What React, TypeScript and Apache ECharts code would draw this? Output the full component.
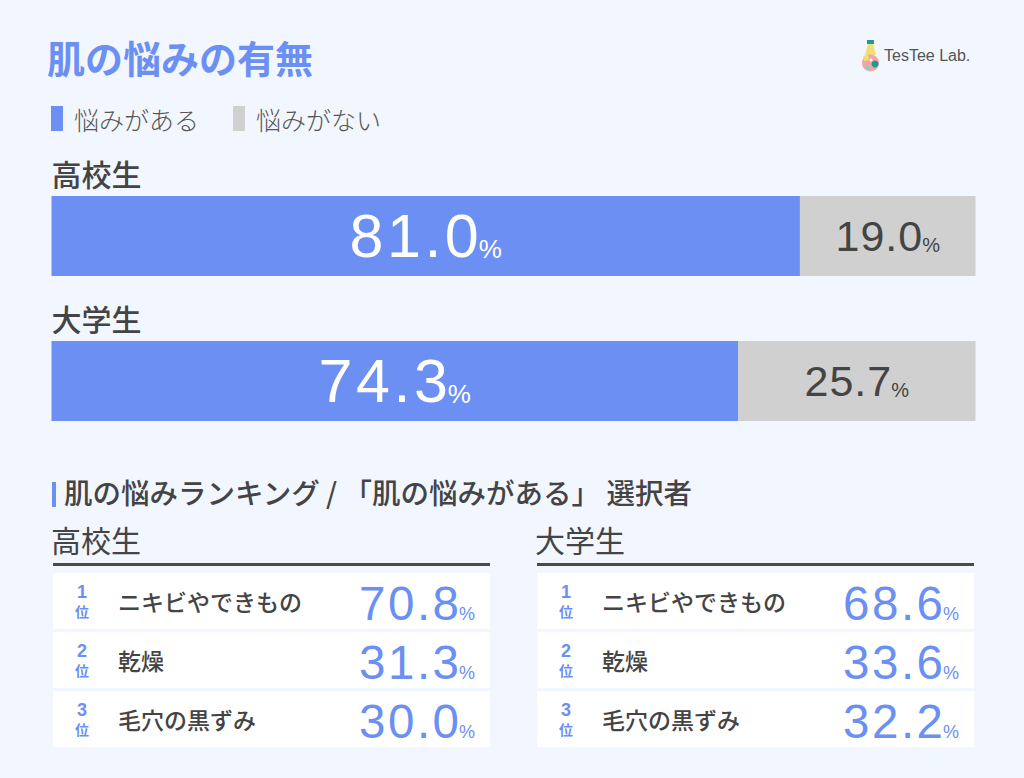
import React, { useEffect, useRef } from "react";
import * as echarts from "echarts";

const groups = ["高校生", "大学生"];
const seriesNames = ["悩みがある", "悩みがない"];
const hasConcern = [81.0, 74.3];
const noConcern = [19.0, 25.7];

const rankItemsHigh = ["ニキビやできもの", "乾燥", "毛穴の黒ずみ"];
const rankValuesHigh = [70.8, 31.3, 30.0];
const rankItemsUniv = ["ニキビやできもの", "乾燥", "毛穴の黒ずみ"];
const rankValuesUniv = [68.6, 33.6, 32.2];
const rankLabels = ["1", "2", "3"];

const BLUE = "#6b8ff2";
const GRAY = "#d0d0d0";
const DARK = "#444444";
const BG = "#f2f6ff";
const JP = '"Noto Sans CJK JP", "Noto Sans", sans-serif';
const NUM = '"Liberation Sans", Arial, Helvetica, sans-serif';

// number text with letter spacing emulated by per-character rich tokens
function spaced(v: number) {
  const s = v.toFixed(1);
  const chars = s.split("");
  return chars.map((c, i) => `{${i === chars.length - 1 ? "l" : "d"}|${c}}`).join("") + "{p|%}";
}

function numRich(color: string, big: number, small: number, gap: number) {
  return {
    d: { fontFamily: NUM, fontSize: big, color, fill: color, verticalAlign: "bottom", lineHeight: big, padding: [0, gap, 0, 0] },
    l: { fontFamily: NUM, fontSize: big, color, fill: color, verticalAlign: "bottom", lineHeight: big },
    p: {
      fontFamily: NUM,
      fontSize: small,
      color,
      fill: color,
      verticalAlign: "bottom",
      lineHeight: small,
      padding: [0, 0, Math.round(0.15 * (big - small)), 0],
    },
  };
}

function rankingTable(x0: number, w: number, title: string, items: string[], values: number[]) {
  const els: any[] = [];
  els.push({
    type: "text",
    left: x0 - 2,
    top: 524,
    style: { text: title, font: `400 30px ${JP}`, fill: DARK },
  });
  els.push({
    type: "rect",
    shape: { x: x0, y: 563, width: w, height: 3 },
    style: { fill: "#4a4a4a" },
  });
  const rowTops = [573, 632, 691];
  items.forEach((item, i) => {
    const top = rowTops[i];
    els.push({
      type: "rect",
      shape: { x: x0, y: top, width: w, height: 56 },
      style: { fill: "#ffffff" },
    });
    els.push({
      type: "text",
      x: x0 + 29,
      y: top + 19,
      style: { text: rankLabels[i], font: `700 18px ${NUM}`, fill: BLUE, align: "center", verticalAlign: "middle" },
    });
    els.push({
      type: "text",
      x: x0 + 29,
      y: top + 38,
      style: { text: "位", font: `700 14px ${JP}`, fill: BLUE, align: "center", verticalAlign: "middle" },
    });
    els.push({
      type: "text",
      x: x0 + 65,
      y: top + 28,
      style: { text: item, font: `500 23px ${JP}`, fill: DARK, align: "left", verticalAlign: "middle" },
    });
    els.push({
      type: "text",
      x: x0 + w - 15,
      y: top + 54,
      style: {
        text: spaced(values[i]),
        align: "right",
        verticalAlign: "bottom",
        rich: numRich(BLUE, 47.5, 18, 2.5),
      },
    });
  });
  return els;
}

export default function App() {
  const ref = useRef<HTMLDivElement>(null);
  useEffect(() => {
    if (!ref.current) return;
    const chart = echarts.init(ref.current, null, { renderer: "svg" });
    const option: any = {
      animation: false,
      backgroundColor: BG,
      title: {
        text: "肌の悩みの有無",
        left: 47,
        top: 37,
        padding: 0,
        textStyle: { fontFamily: JP, fontSize: 38, fontWeight: 700, color: BLUE },
      },
      legend: {
        left: 51,
        top: 106,
        padding: 0,
        icon: "rect",
        itemWidth: 12,
        itemHeight: 25,
        itemGap: 34,
        data: seriesNames,
        textStyle: { fontFamily: JP, fontSize: 25, fontWeight: 300, color: "#555555", padding: [0, 0, 0, 6] },
      },
      grid: { left: 51.5, right: 48.5, top: 163.5, height: 290, containLabel: false },
      xAxis: { type: "value", min: 0, max: 100, show: false },
      yAxis: {
        type: "category",
        data: groups,
        inverse: true,
        axisLine: { show: false },
        axisTick: { show: false },
        axisLabel: {
          inside: true,
          margin: 0,
          align: "left",
          verticalAlign: "bottom",
          padding: [0, 0, 48, 0],
          fontFamily: JP,
          fontSize: 30,
          fontWeight: 500,
          color: DARK,
        },
      },
      series: [
        {
          name: seriesNames[0],
          type: "bar",
          stack: "total",
          data: hasConcern,
          barWidth: 80,
          itemStyle: { color: BLUE },
          label: {
            show: true,
            position: "inside",
            formatter: (p: any) => spaced(p.value),
            rich: numRich("#ffffff", 61, 26, 3.5),
          },
        },
        {
          name: seriesNames[1],
          type: "bar",
          stack: "total",
          data: noConcern,
          barWidth: 80,
          itemStyle: { color: GRAY },
          label: {
            show: true,
            position: "inside",
            formatter: (p: any) => spaced(p.value),
            rich: numRich(DARK, 43, 20, 1),
          },
        },
      ],
      graphic: [
        // logo
        {
          type: "group",
          children: [
            { type: "rect", shape: { x: 867, y: 40, width: 7, height: 4 }, style: { fill: "#1f9a9a" } },
            { type: "polygon", shape: { points: [[868, 44], [873, 44], [876, 55], [865, 55]] }, style: { fill: "#f5dc7a" } },
            { type: "circle", shape: { cx: 870.5, cy: 63, r: 8.5 }, style: { fill: "#f4a6a0" } },
            { type: "circle", shape: { cx: 866, cy: 58, r: 3 }, style: { fill: "#f5dc7a" } },
            { type: "circle", shape: { cx: 875, cy: 64, r: 3.5 }, style: { fill: "#1f9a9a" } },
            { type: "circle", shape: { cx: 868, cy: 68, r: 2.2 }, style: { fill: "#7fd0c8" } },
            { type: "circle", shape: { cx: 871, cy: 60, r: 1.5 }, style: { fill: "#ffffff" } },
          ],
        },
        {
          type: "text",
          left: 884,
          top: 47,
          style: { text: "TesTee Lab.", font: `500 16px ${NUM}`, fill: "#555555" },
        },
        // ranking heading
        { type: "rect", shape: { x: 52, y: 482, width: 4, height: 25 }, style: { fill: BLUE } },
        {
          type: "text",
          left: 64,
          top: 477,
          style: {
            text: "肌の悩みランキング / 「肌の悩みがある」 選択者",
            font: `500 28.5px ${JP}`,
            fill: DARK,
          },
        },
        ...rankingTable(53, 437, groups[0], rankItemsHigh, rankValuesHigh),
        ...rankingTable(537, 437, groups[1], rankItemsUniv, rankValuesUniv),
      ],
    };
    chart.setOption(option);
    return () => chart.dispose();
  }, []);
  return (
    <div
      ref={ref}
      style={{ position: "fixed", left: 0, top: 0, width: 1024, height: 778 }}
    />
  );
}
